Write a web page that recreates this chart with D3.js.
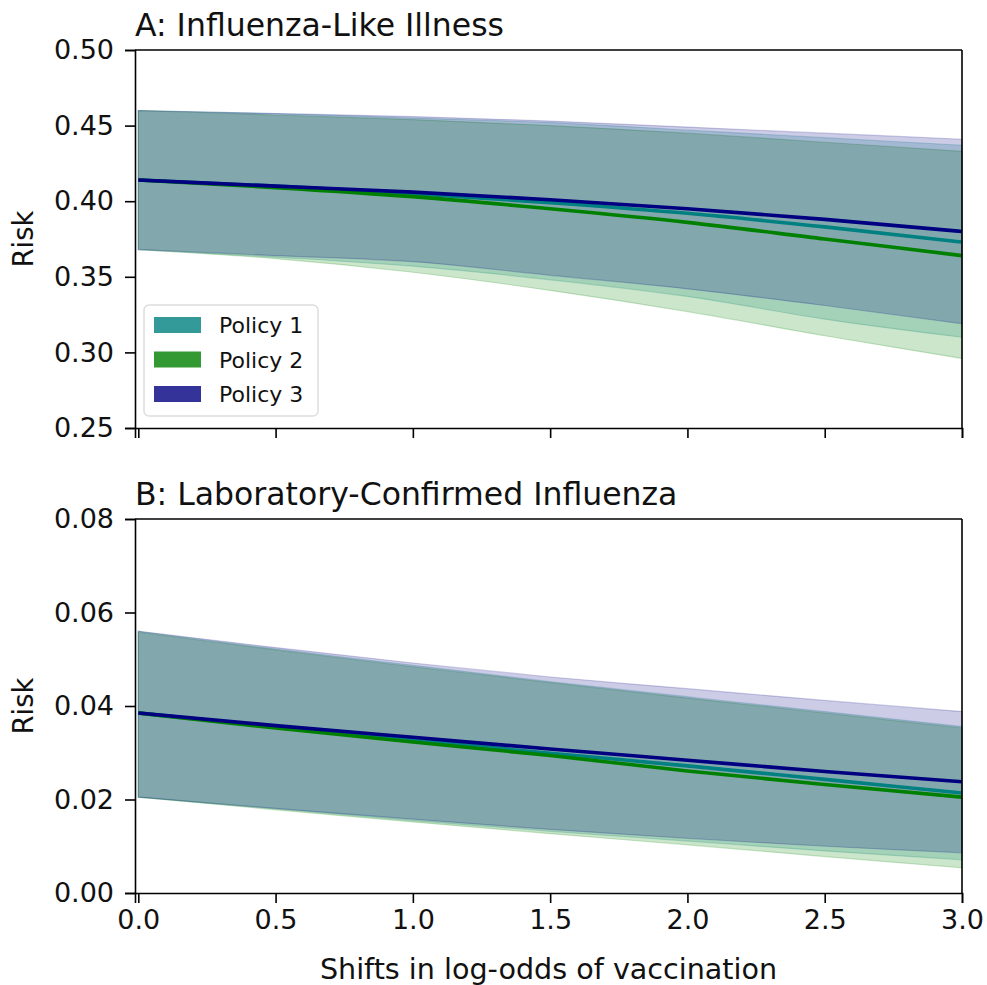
<!DOCTYPE html>
<html lang="en">
<head>
<meta charset="UTF-8">
<title>Risk by policy</title>
<script src="https://cdn.jsdelivr.net/npm/d3@7"></script>
<style>
	body {
		margin: 0;
		background: #fff;
		font-family: "DejaVu Sans", sans-serif;
	}
	.tick text {
		font-size: 27px;
		font-family: "DejaVu Sans", sans-serif;
		fill: #111;
	}
	.tick line, .domain {
		stroke: #000;
		stroke-width: 1.6px;
	}
</style>
</head>
<body>
<div id="chart"></div>
<script>
	// x positions (shift in log-odds of vaccination)
	var shifts = [0, 0.5, 1, 1.5, 2, 2.5, 3];
	var xTicks = [0, 0.5, 1, 1.5, 2, 2.5, 3];

	var policies = ['Policy 1', 'Policy 2', 'Policy 3'];
	var policyColors = ['#008080', '#008000', '#000080'];

	// A: influenza-like illness
	var iliMean1 = [0.414, 0.410, 0.405, 0.399, 0.392, 0.383, 0.373];
	var iliMean2 = [0.414, 0.409, 0.403, 0.395, 0.386, 0.375, 0.364];
	var iliMean3 = [0.414, 0.410, 0.406, 0.401, 0.395, 0.388, 0.380];
	var iliUpper1 = [0.460, 0.458, 0.455, 0.452, 0.447, 0.442, 0.437];
	var iliUpper2 = [0.460, 0.457, 0.454, 0.450, 0.445, 0.439, 0.433];
	var iliUpper3 = [0.460, 0.458, 0.456, 0.453, 0.449, 0.445, 0.441];
	var iliLower1 = [0.368, 0.363, 0.357, 0.348, 0.337, 0.322, 0.310];
	var iliLower2 = [0.368, 0.362, 0.353, 0.341, 0.327, 0.311, 0.296];
	var iliLower3 = [0.368, 0.364, 0.360, 0.351, 0.342, 0.331, 0.319];
	var iliTicks = [0.25, 0.30, 0.35, 0.40, 0.45, 0.50];

	// B: laboratory-confirmed influenza
	var lciMean1 = [0.0385, 0.0355, 0.0327, 0.0299, 0.0272, 0.0243, 0.0214];
	var lciMean2 = [0.0385, 0.0353, 0.0323, 0.0294, 0.0261, 0.0232, 0.0205];
	var lciMean3 = [0.0385, 0.0358, 0.0333, 0.0308, 0.0284, 0.0260, 0.0238];
	var lciUpper1 = [0.0560, 0.0522, 0.0487, 0.0452, 0.0420, 0.0388, 0.0356];
	var lciUpper2 = [0.0558, 0.0520, 0.0484, 0.0450, 0.0417, 0.0385, 0.0353];
	var lciUpper3 = [0.0560, 0.0525, 0.0492, 0.0462, 0.0437, 0.0412, 0.0388];
	var lciLower1 = [0.0205, 0.0180, 0.0155, 0.0132, 0.0111, 0.0090, 0.0071];
	var lciLower2 = [0.0205, 0.0178, 0.0152, 0.0127, 0.0103, 0.0078, 0.0054];
	var lciLower3 = [0.0205, 0.0181, 0.0158, 0.0136, 0.0117, 0.0100, 0.0086];
	var lciTicks = [0.00, 0.02, 0.04, 0.06, 0.08];

	var width = 987, height = 985;
	var left = 135, right = 962;

	var svg = d3.select('#chart').append('svg')
		.attr('width', width)
		.attr('height', height);

	var x = d3.scaleLinear().domain([-0.012, 3]).range([left, right]);

	function drawPanel(opts) {
		var y = d3.scaleLinear().domain(opts.domain).range([opts.bottom, opts.top]);
		var g = svg.append('g');

		var series = [
			{mean: opts.mean[0], lo: opts.lower[0], hi: opts.upper[0], color: policyColors[0]},
			{mean: opts.mean[1], lo: opts.lower[1], hi: opts.upper[1], color: policyColors[1]},
			{mean: opts.mean[2], lo: opts.lower[2], hi: opts.upper[2], color: policyColors[2]}
		];

		var area = d3.area()
			.x(function (d) { return x(d.x); })
			.y0(function (d) { return y(d.lo); })
			.y1(function (d) { return y(d.hi); })
			.curve(d3.curveMonotoneX);

		var line = d3.line()
			.x(function (d) { return x(d.x); })
			.y(function (d) { return y(d.v); })
			.curve(d3.curveMonotoneX);

		series.forEach(function (s) {
			var pts = shifts.map(function (sx, i) {
				return {x: sx, lo: s.lo[i], hi: s.hi[i]};
			});
			g.append('path')
				.datum(pts)
				.attr('d', area)
				.attr('fill', s.color)
				.attr('fill-opacity', 0.2)
				.attr('stroke', s.color)
				.attr('stroke-opacity', 0.2)
				.attr('stroke-width', 1.2);
		});

		series.forEach(function (s) {
			var pts = shifts.map(function (sx, i) {
				return {x: sx, v: s.mean[i]};
			});
			g.append('path')
				.datum(pts)
				.attr('d', line)
				.attr('fill', 'none')
				.attr('stroke', s.color)
				.attr('stroke-width', 3.6);
		});

		// axes
		g.append('g')
			.attr('transform', 'translate(' + left + ',0)')
			.call(d3.axisLeft(y).tickValues(opts.ticks).tickFormat(d3.format('.2f'))
				.tickSizeOuter(0).tickSize(10).tickPadding(11));

		g.append('g')
			.attr('transform', 'translate(0,' + opts.bottom + ')')
			.call(d3.axisBottom(x).tickValues(xTicks).tickFormat(opts.showX ? d3.format('.1f') : '')
				.tickSizeOuter(0).tickSize(10).tickPadding(7));

		// remaining spines
		g.append('line').attr('x1', left).attr('x2', right).attr('y1', opts.top).attr('y2', opts.top)
			.attr('stroke', '#000').attr('stroke-width', 1.6);
		g.append('line').attr('x1', right).attr('x2', right).attr('y1', opts.top).attr('y2', opts.bottom)
			.attr('stroke', '#000').attr('stroke-width', 1.6);

		g.append('text')
			.attr('x', left)
			.attr('y', opts.top - 14)
			.style('font-size', '31.5px')
			.style('fill', '#111')
			.text(opts.title);

		g.append('text')
			.attr('transform', 'translate(33,' + ((opts.top + opts.bottom) / 2) + ') rotate(-90)')
			.style('text-anchor', 'middle')
			.style('font-size', '27.5px')
			.style('fill', '#111')
			.text('Risk');

		return g;
	}

	var gA = drawPanel({
		title: 'A: Influenza-Like Illness',
		top: 50, bottom: 428,
		domain: [0.25, 0.50], ticks: iliTicks,
		mean: [iliMean1, iliMean2, iliMean3],
		upper: [iliUpper1, iliUpper2, iliUpper3],
		lower: [iliLower1, iliLower2, iliLower3],
		showX: false
	});

	drawPanel({
		title: 'B: Laboratory-Confirmed Influenza',
		top: 519, bottom: 893,
		domain: [0, 0.08], ticks: lciTicks,
		mean: [lciMean1, lciMean2, lciMean3],
		upper: [lciUpper1, lciUpper2, lciUpper3],
		lower: [lciLower1, lciLower2, lciLower3],
		showX: true
	});

	svg.append('text')
		.attr('x', (320 + 777) / 2)
		.attr('y', 979)
		.style('text-anchor', 'middle')
		.style('font-size', '28.6px')
		.style('fill', '#111')
		.text('Shifts in log-odds of vaccination');

	// legend
	var legend = gA.append('g').attr('transform', 'translate(144,305)');
	legend.append('rect')
		.attr('width', 174).attr('height', 111).attr('rx', 5)
		.attr('fill', '#fff').attr('fill-opacity', 0.8)
		.attr('stroke', '#ddd').attr('stroke-width', 1.5);

	policies.forEach(function (p, i) {
		legend.append('rect')
			.attr('x', 10).attr('y', 12 + i * 34.5)
			.attr('width', 47).attr('height', 16)
			.attr('fill', policyColors[i]).attr('fill-opacity', 0.8);
		legend.append('text')
			.attr('x', 75).attr('y', 28 + i * 34.5)
			.style('font-size', '22px')
			.style('fill', '#111')
			.text(p);
	});
</script>
</body>
</html>
